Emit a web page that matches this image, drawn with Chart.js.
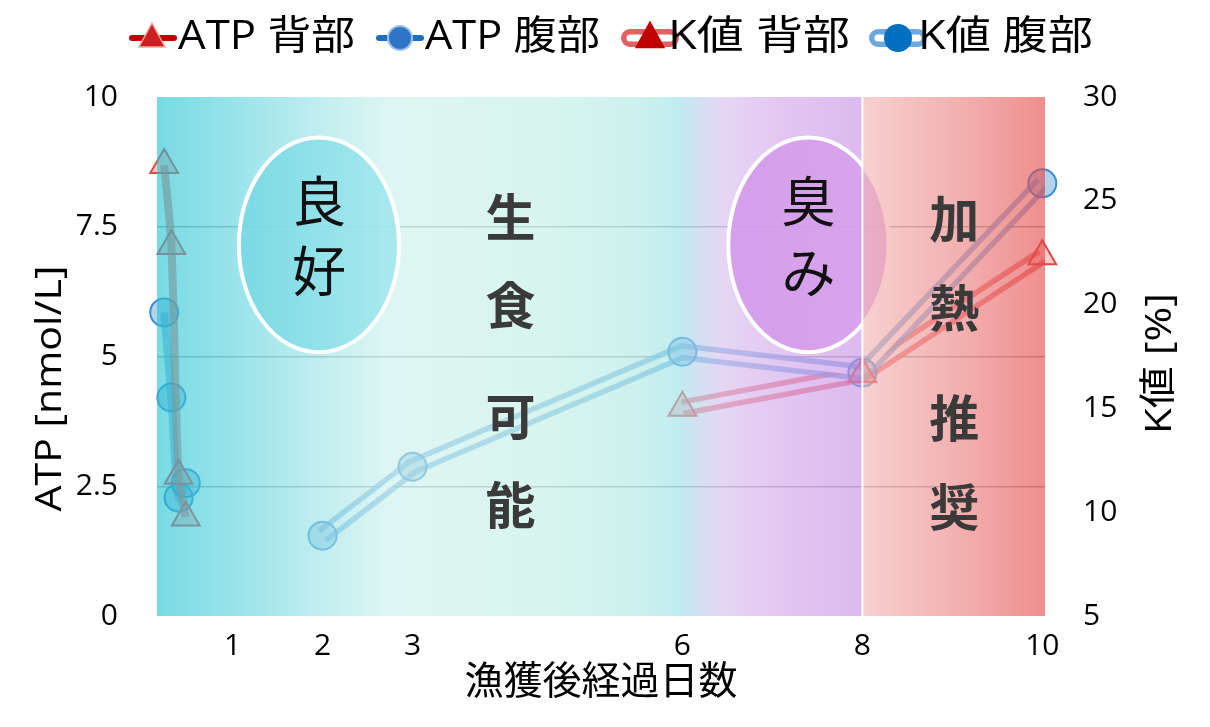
<!DOCTYPE html>
<html lang="ja">
<head>
<meta charset="utf-8">
<title>ATP・K値の推移</title>
<script src="https://cdn.jsdelivr.net/npm/chart.js@4.4.1/dist/chart.umd.min.js"></script>
<style>
  html, body { margin: 0; padding: 0; background: #fff; }
  #wrap { width: 1210px; height: 727px; }
</style>
</head>
<body>
<div id="wrap"><canvas id="chart" width="1210" height="727"></canvas></div>
<script>
// axis ticks
const xTicks = [1, 2, 3, 6, 8, 10];
const atpTicks = [0, 2.5, 5, 7.5, 10];
const kTicks = [5, 10, 15, 20, 25, 30];

// ATP, first hours after catch (days)
const atpDays = [0.24, 0.32, 0.40, 0.48];
const atpDorsal = [8.69, 7.13, 2.70, 1.90];
const atpVentral = [5.85, 4.21, 2.28, 2.56];

// K value
const kDaysVentral = [2, 3, 6, 8, 10];
const kVentral = [8.87, 12.19, 17.73, 16.72, 25.84];
const kDaysDorsal = [6, 8, 10];
const kDorsal = [15.03, 16.66, 22.33];

const seriesNames = ['ATP 背部', 'ATP 腹部', 'K値 背部', 'K値 腹部'];

const NUM_FONT = "'Open Sans', 'Noto Sans CJK JP', sans-serif";
const JP_FONT = "'Noto Sans CJK JP', sans-serif";

const pts = (xs, ys) => xs.map((x, i) => ({ x: x, y: ys[i] }));

// zone overlay (drawn over the data, semi transparent)
const OV_A = 0.6;
const zoneSplit = 8;
const leftStops = [
    [0.00, [120, 218, 228]],
    [0.10, [150, 227, 234]],
    [0.24, [195, 238, 240]],
    [0.33, [222, 246, 243]],
    [0.55, [216, 245, 238]],
    [0.68, [205, 241, 238]],
    [0.74, [192, 236, 240]],
    [0.80, [230, 214, 244]],
    [0.90, [226, 196, 241]],
    [1.00, [221, 186, 239]]
];
const rightStops = [
    [0.0, [247, 208, 208]],
    [0.5, [243, 178, 178]],
    [1.0, [238, 142, 142]]
];

function ov(c) {
    const v = c.map(k => Math.max(0, Math.round((k - (1 - OV_A) * 255) / OV_A)));
    return 'rgba(' + v[0] + ',' + v[1] + ',' + v[2] + ',' + OV_A + ')';
}

// draws text, squeezed/stretched to a given width
function fitText(ctx, text, x, y, font, color, width, align, rot) {
    ctx.save();
    ctx.font = font;
    ctx.fillStyle = color;
    ctx.textBaseline = 'middle';
    ctx.textAlign = align || 'left';
    const w = ctx.measureText(text).width;
    ctx.translate(x, y);
    if (rot) ctx.rotate(rot);
    if (width) ctx.scale(width / w, 1);
    ctx.fillText(text, 0, 0);
    ctx.restore();
}

// Excel style double line: cut a gap out of the thick line
const compoundGap = {
    id: 'compoundGap',
    afterDatasetDraw(chart, args) {
        const ds = chart.data.datasets[args.index];
        if (!ds.gapWidth) return;
        const ctx = chart.ctx;
        ctx.save();
        ctx.globalCompositeOperation = 'destination-out';
        ctx.lineWidth = ds.gapWidth;
        ctx.lineJoin = 'round';
        ctx.beginPath();
        args.meta.data.forEach((p, i) => i ? ctx.lineTo(p.x, p.y) : ctx.moveTo(p.x, p.y));
        ctx.stroke();
        ctx.restore();
    }
};

// bubbles and vertical labels (positions in data units)
const bubbles = [
    { cx: 1.96, cy: 7.15, rx: 0.89, ry: 2.07, from: [116, 216, 228], to: [160, 231, 237], chars: ['良', '好'], ty: [7.98, 6.63] },
    { cx: 7.40, cy: 7.15, rx: 0.89, ry: 2.07, from: [210, 150, 234], to: [216, 162, 236], chars: ['臭', 'み'], ty: [7.98, 6.61] }
];
const columns = [
    { x: 4.09, chars: ['生', '食', '可', '能'], ty: [7.69, 5.99, 3.85, 2.14] },
    { x: 9.02, chars: ['加', '熱', '推', '奨'], ty: [7.65, 5.93, 3.82, 2.10] }
];

const zones = {
    id: 'zones',
    afterDatasetsDraw(chart) {
        const { ctx, chartArea: a, scales: { x, y } } = chart;
        const split = x.getPixelForValue(zoneSplit);
        const h = a.bottom - a.top;
        ctx.save();

        let g = ctx.createLinearGradient(a.left, 0, split, 0);
        leftStops.forEach(s => g.addColorStop(s[0], ov(s[1])));
        ctx.fillStyle = g;
        ctx.fillRect(a.left, a.top, split - a.left, h);

        bubbles.forEach(b => {
            const cx = x.getPixelForValue(b.cx), cy = y.getPixelForValue(b.cy);
            const rx = x.getPixelForValue(b.cx + b.rx) - cx;
            const ry = cy - y.getPixelForValue(b.cy + b.ry);
            const bg = ctx.createLinearGradient(cx - rx, 0, cx + rx, 0);
            bg.addColorStop(0, 'rgba(' + b.from.join(',') + ',0.85)');
            bg.addColorStop(1, 'rgba(' + b.to.join(',') + ',0.85)');
            ctx.beginPath();
            ctx.ellipse(cx, cy, rx, ry, 0, 0, Math.PI * 2);
            ctx.fillStyle = bg;
            ctx.fill();
            ctx.lineWidth = 4;
            ctx.strokeStyle = '#fff';
            ctx.stroke();
        });

        g = ctx.createLinearGradient(split, 0, a.right, 0);
        rightStops.forEach(s => g.addColorStop(s[0], ov(s[1])));
        ctx.fillStyle = g;
        ctx.fillRect(split, a.top, a.right - split, h);

        ctx.fillStyle = '#fff';
        ctx.fillRect(split - 1, a.top, 2, h);

        bubbles.forEach(b => {
            b.chars.forEach((c, i) => {
                fitText(ctx, c, x.getPixelForValue(b.cx), y.getPixelForValue(b.ty[i]),
                    '400 54px ' + JP_FONT, '#111', 0, 'center');
            });
        });
        columns.forEach(col => {
            col.chars.forEach((c, i) => {
                fitText(ctx, c, x.getPixelForValue(col.x), y.getPixelForValue(col.ty[i]),
                    '700 50px ' + JP_FONT, '#3a3a3a', 0, 'center');
            });
        });
        ctx.restore();
    }
};

// legend + vertical axis titles
const extras = {
    id: 'extras',
    afterDraw(chart) {
        const { ctx, chartArea: a } = chart;
        const ly = 38;
        ctx.save();
        ctx.lineCap = 'round';

        // ATP 背部
        ctx.strokeStyle = '#c00000'; ctx.lineWidth = 6;
        ctx.beginPath(); ctx.moveTo(132, ly); ctx.lineTo(174, ly); ctx.stroke();
        tri(ctx, 152, ly, 15, '#cc2020', '#f0a8a0');
        // ATP 腹部
        ctx.strokeStyle = '#1f6fc0'; ctx.lineWidth = 6;
        ctx.beginPath(); ctx.moveTo(379, ly); ctx.lineTo(421, ly); ctx.stroke();
        dot(ctx, 400, ly, 12, '#2e75c6', '#9dc3e6');
        // K値 背部
        capsule(ctx, 630, 670, ly, '#e06262');
        tri(ctx, 650, ly, 16, '#c00000', '#c00000');
        // K値 腹部
        capsule(ctx, 878, 918, ly, '#6fa8dc');
        dot(ctx, 898, ly, 13, '#0070c0', '#0070c0');

        const tx = [178, 425, 668, 918];
        const tw = [177, 175, 182, 175];
        seriesNames.forEach((s, i) => fitText(ctx, s, tx[i], ly, '400 40px ' + NUM_FONT, '#000', tw[i]));

        fitText(ctx, 'ATP [nmol/L]', 50, (a.top + a.bottom) / 2 + 32,
            '400 37px ' + NUM_FONT, '#000', 246, 'center', -Math.PI / 2);
        fitText(ctx, 'K値 [%]', a.right + 115, (a.top + a.bottom) / 2 + 7,
            '400 37px ' + NUM_FONT, '#000', 141, 'center', -Math.PI / 2);
        ctx.restore();
    }
};

function tri(ctx, x, y, r, fill, stroke) {
    ctx.beginPath();
    ctx.moveTo(x, y - r);
    ctx.lineTo(x + r * 0.87, y + r * 0.6);
    ctx.lineTo(x - r * 0.87, y + r * 0.6);
    ctx.closePath();
    ctx.fillStyle = fill; ctx.fill();
    ctx.lineWidth = 1.5; ctx.strokeStyle = stroke; ctx.stroke();
}

function dot(ctx, x, y, r, fill, stroke) {
    ctx.beginPath();
    ctx.arc(x, y, r, 0, Math.PI * 2);
    ctx.fillStyle = fill; ctx.fill();
    ctx.lineWidth = 2; ctx.strokeStyle = stroke; ctx.stroke();
}

function capsule(ctx, x0, x1, y, color) {
    ctx.lineCap = 'round';
    ctx.strokeStyle = color; ctx.lineWidth = 18;
    ctx.beginPath(); ctx.moveTo(x0, y); ctx.lineTo(x1, y); ctx.stroke();
    ctx.strokeStyle = '#fff'; ctx.lineWidth = 7;
    ctx.beginPath(); ctx.moveTo(x0, y); ctx.lineTo(x1, y); ctx.stroke();
}

const datasets = [
    {
        label: seriesNames[3] + ' line', data: pts(kDaysVentral, kVentral), yAxisID: 'y2',
        borderColor: 'rgba(100,165,225,0.72)', borderWidth: 17, gapWidth: 6,
        pointRadius: 0, tension: 0, order: 3
    },
    {
        label: seriesNames[2] + ' line', data: pts(kDaysDorsal, kDorsal), yAxisID: 'y2',
        borderColor: 'rgba(232,95,95,0.75)', borderWidth: 17, gapWidth: 6,
        pointRadius: 0, tension: 0, order: 3
    },
    {
        label: seriesNames[0], data: pts(atpDays, atpDorsal), yAxisID: 'y',
        borderColor: 'rgba(235,85,75,0.62)', borderWidth: 8, tension: 0.3,
        pointStyle: 'triangle', pointRadius: 16, pointBorderWidth: 2,
        pointBackgroundColor: 'rgba(240,110,110,0.35)', pointBorderColor: '#e04a45',
        clip: false, order: 2
    },
    {
        label: seriesNames[1], data: pts(atpDays, atpVentral), yAxisID: 'y',
        borderColor: 'rgba(91,155,213,0.6)', borderWidth: 8, tension: 0.3,
        pointStyle: 'circle', pointRadius: 14, pointBorderWidth: 2,
        pointBackgroundColor: 'rgba(91,155,213,0.45)', pointBorderColor: '#3d8ed6',
        clip: false, order: 2
    },
    {
        label: seriesNames[2], data: pts(kDaysDorsal, kDorsal), yAxisID: 'y2', showLine: false,
        pointStyle: 'triangle', pointRadius: 16, pointBorderWidth: 2,
        pointBackgroundColor: 'rgba(240,110,110,0.35)', pointBorderColor: '#e04a45',
        clip: false, order: 1
    },
    {
        label: seriesNames[3], data: pts(kDaysVentral, kVentral), yAxisID: 'y2', showLine: false,
        pointStyle: 'circle', pointRadius: 14, pointBorderWidth: 2,
        pointBackgroundColor: 'rgba(91,155,213,0.45)', pointBorderColor: '#3d8ed6',
        clip: false, order: 1
    }
];

const tickFont = { family: NUM_FONT, size: 30 };

new Chart(document.getElementById('chart'), {
    type: 'line',
    data: { datasets: datasets },
    options: {
        responsive: false,
        animation: false,
        events: [],
        layout: { padding: { top: 97 } },
        plugins: { legend: { display: false }, tooltip: { enabled: false } },
        scales: {
            x: {
                type: 'linear', position: 'bottom', min: 0.16, max: 10.03,
                afterBuildTicks: s => { s.ticks = xTicks.map(v => ({ value: v })); },
                afterFit: s => { s.height = 111; },
                grid: { display: false },
                border: { display: false },
                ticks: { font: tickFont, color: '#000', padding: 4, maxRotation: 0, autoSkip: false },
                title: {
                    display: true, text: '漁獲後経過日数', color: '#000',
                    font: { family: JP_FONT, size: 39 }, padding: { top: 0, bottom: 24 }
                }
            },
            y: {
                position: 'left', min: 0, max: 10,
                afterBuildTicks: s => { s.ticks = atpTicks.map(v => ({ value: v })); },
                afterFit: s => { s.width = 157; },
                grid: {
                    drawTicks: false, lineWidth: 1.5,
                    color: c => (c.tick && (c.tick.value === 0 || c.tick.value === 10)) ? 'rgba(0,0,0,0)' : 'rgba(110,110,110,0.55)'
                },
                border: { display: false },
                ticks: { font: tickFont, color: '#000', padding: 39 }
            },
            y2: {
                position: 'right', min: 5, max: 30,
                afterBuildTicks: s => { s.ticks = kTicks.map(v => ({ value: v })); },
                afterFit: s => { s.width = 165; },
                grid: { display: false, drawTicks: false },
                border: { display: false },
                ticks: { font: tickFont, color: '#000', padding: 38 }
            }
        }
    },
    plugins: [compoundGap, zones, extras]
});
</script>
</body>
</html>
